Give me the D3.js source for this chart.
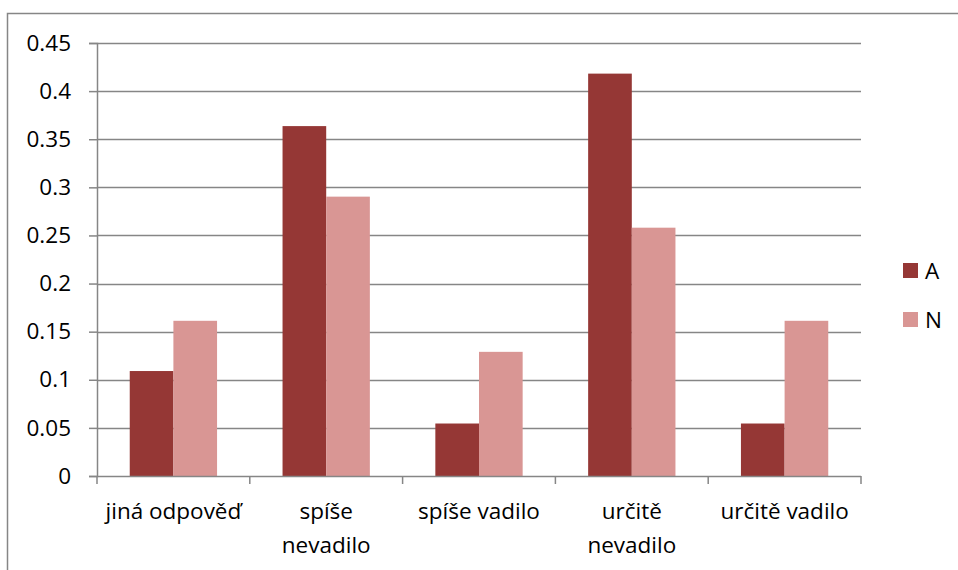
<!DOCTYPE html>
<html>
<head>
<meta charset="utf-8">
<script src="https://cdn.jsdelivr.net/npm/d3@7"></script>
<style>
  html, body { margin: 0; padding: 0; background: #fff; }
  svg { display: block; }
  text { font-family: "Open Sans", "DejaVu Sans", sans-serif; fill: #000; }
</style>
</head>
<body>
<svg id="chart" width="958" height="570"></svg>
<script>
// Share of answers per category, for groups A (n = 55) and N (n = 31)
const categories = [
  ["jiná odpověď"],
  ["spíše", "nevadilo"],
  ["spíše vadilo"],
  ["určitě", "nevadilo"],
  ["určitě vadilo"]
];
const seriesNames = ["A", "N"];
const valuesA = [6 / 55, 20 / 55, 3 / 55, 23 / 55, 3 / 55];
const valuesN = [5 / 31, 9 / 31, 4 / 31, 8 / 31, 5 / 31];
const yTicks = [0, 0.05, 0.1, 0.15, 0.2, 0.25, 0.3, 0.35, 0.4, 0.45];
const colors = ["#953735", "#D99694"];

const series = [valuesA, valuesN];
const svg = d3.select("#chart");
const fontSize = 22.5;

// Outer chart frame
svg.append("rect")
  .attr("x", 7.5).attr("y", 13.5)
  .attr("width", 1000).attr("height", 600)
  .attr("fill", "none").attr("stroke", "#868686").attr("stroke-width", 1.5);

const plot = { left: 97, right: 861, top: 43, bottom: 476 };

const x = d3.scaleBand()
  .domain(d3.range(categories.length))
  .range([plot.left, plot.right])
  .paddingInner(0).paddingOuter(0);

const y = d3.scaleLinear().domain([0, 0.45]).range([plot.bottom, plot.top]);

// Horizontal gridlines
svg.append("g")
  .selectAll("line")
  .data(yTicks.filter(t => t > 0))
  .join("line")
  .attr("x1", plot.left).attr("x2", plot.right)
  .attr("y1", d => Math.round(y(d)) + 0.5).attr("y2", d => Math.round(y(d)) + 0.5)
  .attr("stroke", "#868686").attr("stroke-width", 1.5);

// Bars: Excel-style clustering with 150% gap width
const step = x.bandwidth();
const barW = step / 3.5;
const groupOffset = (step - 2 * barW) / 2;
series.forEach((vals, si) => {
  svg.append("g")
    .selectAll("rect")
    .data(vals)
    .join("rect")
    .attr("x", (d, i) => x(i) + groupOffset + si * barW)
    .attr("y", d => y(d))
    .attr("width", barW)
    .attr("height", d => y(0) - y(d))
    .attr("fill", colors[si]);
});

// Y axis
const yAxis = d3.axisLeft(y)
  .tickValues(yTicks)
  .tickSize(8)
  .tickPadding(18)
  .tickFormat(d => d3.format("")(+d.toFixed(2)));
const gy = svg.append("g")
  .attr("transform", `translate(${plot.left},0)`)
  .call(yAxis);
gy.select(".domain").attr("stroke", "#868686").attr("stroke-width", 1.5);
gy.selectAll(".tick line").attr("stroke", "#868686").attr("stroke-width", 1.5);
gy.selectAll(".tick text")
  .attr("font-family", "'Open Sans', sans-serif")
  .attr("font-size", fontSize).attr("fill", "#000");

// X axis line and category separator ticks
svg.append("line")
  .attr("x1", plot.left).attr("x2", plot.right)
  .attr("y1", plot.bottom + 0.5).attr("y2", plot.bottom + 0.5)
  .attr("stroke", "#868686").attr("stroke-width", 1.5);
svg.append("g")
  .selectAll("line")
  .data(d3.range(categories.length + 1))
  .join("line")
  .attr("x1", i => (i < categories.length ? x(i) : plot.right))
  .attr("x2", i => (i < categories.length ? x(i) : plot.right))
  .attr("y1", plot.bottom).attr("y2", plot.bottom + 8)
  .attr("stroke", "#868686").attr("stroke-width", 1.5);

// Category labels (wrapped onto two lines where needed)
const labels = svg.append("g")
  .selectAll("text")
  .data(categories)
  .join("text")
  .attr("text-anchor", "middle")
  .attr("font-size", fontSize)
  .attr("transform", (d, i) => `translate(${x(i) + step / 2},519)`);
labels.selectAll("tspan")
  .data(d => d)
  .join("tspan")
  .attr("x", 0)
  .attr("dy", (d, j) => (j === 0 ? 0 : 34))
  .text(d => d);

// Legend
const legend = svg.append("g")
  .selectAll("g")
  .data(seriesNames)
  .join("g")
  .attr("transform", (d, i) => `translate(903,${263 + i * 49})`);
legend.append("rect")
  .attr("width", 15).attr("height", 15)
  .attr("fill", (d, i) => colors[i]);
legend.append("text")
  .attr("x", 22).attr("y", 15.5)
  .attr("font-size", fontSize)
  .text(d => d);
</script>
</body>
</html>
